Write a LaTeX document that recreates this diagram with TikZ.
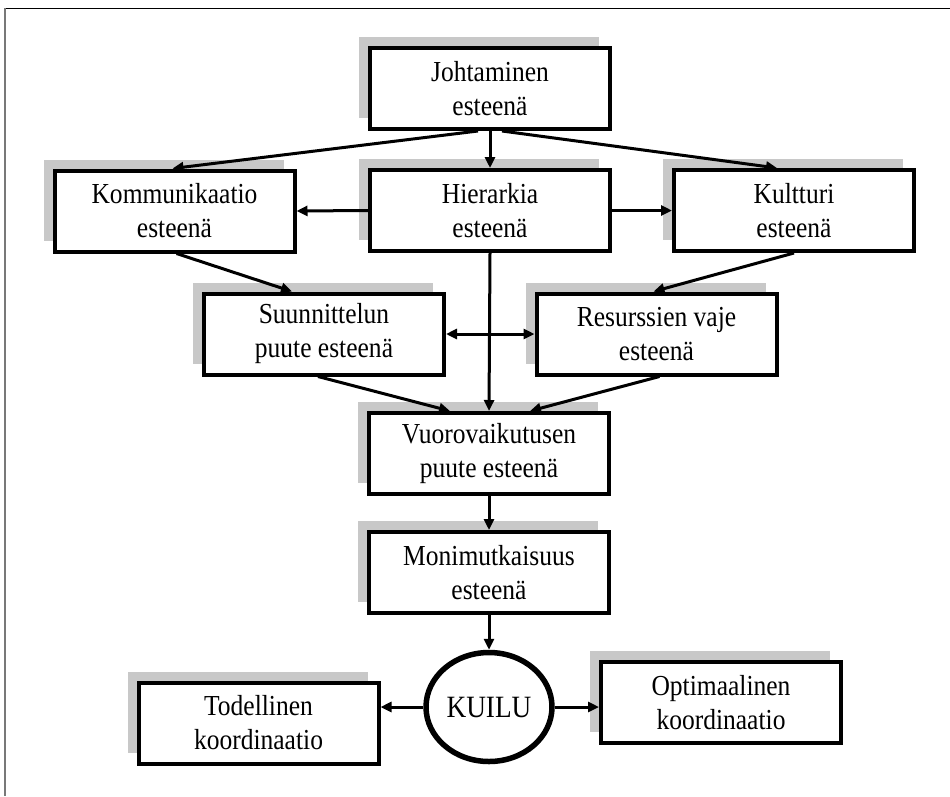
\documentclass[tikz,border=0pt]{standalone}
\usepackage{fontspec}
\setmainfont{Liberation Serif}[FakeStretch=0.88]
\usetikzlibrary{arrows.meta,shadows,shapes.geometric}
\definecolor{shade}{RGB}{200,200,200}
\definecolor{framegray}{RGB}{120,120,120}

\begin{document}
\begin{tikzpicture}[x=1pt,y=-1pt,
  box/.style={draw=black, line width=4pt, fill=white, rectangle,
    minimum width=240pt, minimum height=81pt, align=center, inner sep=0pt,
    font=\fontsize{29}{34}\selectfont,
    drop shadow={shadow xshift=-11pt, shadow yshift=11pt, fill=shade, opacity=1}},
  gap/.style={draw=black, line width=5.5pt, fill=white, ellipse,
    minimum width=126pt, minimum height=109pt, inner sep=0pt,
    font=\fontsize{31}{34}\selectfont},
  arr/.style={line width=3pt, -{Triangle[length=11pt,width=10pt]}},
  darr/.style={line width=3pt, {Triangle[length=11pt,width=10pt]}-{Triangle[length=11pt,width=10pt]}}
]
\useasboundingbox (0,0) rectangle (950,796);

% page frame (top and left edges)
\draw[black, line width=1.5pt] (4,8.5) -- (950,8.5);
\draw[framegray, line width=2pt] (5,8) -- (5,796);

% boxes
\node[box] (joht) at (490,88.5) {Johtaminen\\esteenä};
\node[box] (komm) at (174.5,211) {Kommunikaatio\\esteenä};
\node[box] (hier) at (490,210.5) {Hierarkia\\esteenä};
\node[box] (kult) at (794,210.5) {Kultturi\\esteenä};
\node[box] (suun) at (324,334) {Suunnittelun\\puute esteenä};
\node[box] (resu) at (656.5,334) {Resurssien vaje\\esteenä};
\node[box] (vuor) at (489,453.5) {Vuorovaikutusen\\puute esteenä};
\node[box] (moni) at (489,572.5) {Monimutkaisuus\\esteenä};
\node[gap] (kuil) at (489,707) {KUILU};
\node[box] (tode) at (258.5,723) {Todellinen\\koordinaatio};
\node[box] (opti) at (721,702.5) {Optimaalinen\\koordinaatio};

% connectors
\draw[arr] (joht.south) -- (hier.north);
\draw[arr] ([xshift=-12pt]joht.south) -- ([xshift=-2pt]komm.north);
\draw[arr] ([xshift=12pt]joht.south) -- ([xshift=-17pt]kult.north);
\draw[arr] (hier.west) -- (komm.east);
\draw[arr] (hier.east) -- (kult.west);
\draw[arr] ([xshift=2pt]komm.south) -- ([xshift=-32pt]suun.north);
\draw[arr] (kult.south) -- ([xshift=-3pt]resu.north);
\draw[arr] (hier.south) -- (vuor.north);
\draw[darr] (suun.east) -- (resu.west);
\draw[arr] ([xshift=-6pt]suun.south) -- ([xshift=-39pt]vuor.north);
\draw[arr] ([xshift=3pt]resu.south) -- ([xshift=41pt]vuor.north);
\draw[arr] (vuor.south) -- (moni.north);
\draw[arr] (moni.south) -- (kuil.north);
\draw[arr] (kuil.west) -- (tode.east |- kuil.west);
\draw[arr] (kuil.east) -- (opti.west |- kuil.east);
\end{tikzpicture}
\end{document}
